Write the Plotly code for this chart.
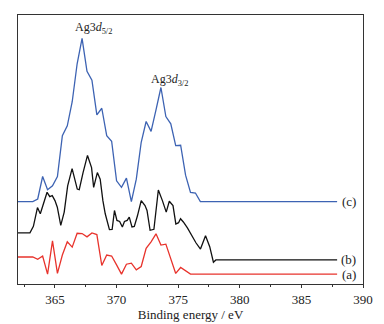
import plotly.graph_objects as go

# Binding energy (eV) and intensity (arbitrary units, curves offset)
x_c = [362.0, 363.2, 363.6, 364.0, 364.4, 364.8, 365.2, 365.6, 366.0, 366.4, 366.8, 367.2,
       367.6, 368.0, 368.4, 368.8, 369.2, 369.6, 370.0, 370.4, 370.8, 371.2, 371.6, 372.0,
       372.4, 372.8, 373.2, 373.6, 374.0, 374.4, 374.8, 375.2, 375.6, 376.0, 376.4, 376.8, 387.9]
y_c = [83.3, 83.3, 86, 108.7, 95.3, 99.3, 108.7, 150, 160, 184.3, 222.7, 248.3,
       215, 206, 171, 177.7, 150, 144.3, 104.3, 97.7, 107, 83.3, 106, 143.3,
       164.3, 154.3, 176, 198.7, 169.3, 162, 140, 140.3, 110, 92.7, 92, 83.3, 83.3]

x_b = [362.0, 362.97, 363.25, 363.58, 363.81, 364.0, 364.36, 364.58, 364.78, 365.0, 365.19,
       365.47, 365.75, 366.03, 366.39, 366.81, 366.97, 367.28, 367.64, 367.97, 368.14, 368.44,
       368.67, 368.89, 369.08, 369.42, 369.64, 369.83, 370.03, 370.25, 370.47, 370.64, 370.86,
       371.03, 371.25, 371.44, 371.69, 372.0, 372.31, 372.47, 372.72, 373.03, 373.39, 373.72,
       374.03, 374.28, 374.58, 374.81, 375.03, 375.19, 375.42, 375.75, 376.03, 376.44, 376.81,
       377.22, 377.56, 377.86, 378.06, 387.9]
y_b = [51.7, 51.7, 58.3, 77.3, 71, 79.3, 92.7, 88.3, 89.3, 84.3, 77.7,
       59.3, 72.7, 99.3, 116.7, 96, 95.3, 112.7, 130, 117.7, 97.7, 112.7,
       106, 84.3, 71, 55, 55.3, 74.3, 64.3, 63.3, 57.7, 63.3, 64.3,
       67.7, 57.7, 58.3, 68.7, 84.3, 79.3, 74.3, 54.3, 55.3, 95, 84.3,
       72.7, 83.7, 79.3, 60.7, 62, 66, 62.7, 56.7, 50.3, 41.7, 35.3,
       48.7, 37.7, 22, 24.3, 24.3]

x_a = [362.0, 363.2, 363.6, 364.0, 364.4, 364.8, 365.2, 365.6, 366.0, 366.4, 366.8, 367.2,
       367.6, 368.0, 368.4, 368.8, 369.2, 369.6, 370.0, 370.4, 370.8, 371.2, 371.6, 372.0,
       372.4, 372.8, 373.2, 373.6, 374.0, 374.4, 374.8, 375.2, 375.6, 376.0, 387.9]
y_a = [27.3, 27.3, 25, 28.3, 10, 43.7, 10.7, 29.3, 42.7, 37.3, 51.3, 51,
       47.7, 51.7, 50, 18.7, 29.3, 28.3, 19.3, 10, 20, 21, 14.3, 17.7,
       36, 42.7, 50.7, 39.3, 40.3, 26, 10.7, 16.7, 13.3, 10, 10]

series = [("(a)", x_a, y_a, "#e8332c"), ("(b)", x_b, y_b, "#111111"), ("(c)", x_c, y_c, "#3d63b3")]
peak_labels = [("Ag3<i>d</i><sub>5/2</sub>", 368.1, 259), ("Ag3<i>d</i><sub>3/2</sub>", 374.3, 206)]

serif = "Liberation Serif, Times New Roman, serif"
fig = go.Figure()
annotations = []
for name, xs, ys, col in series:
    fig.add_trace(go.Scatter(x=xs, y=ys, mode="lines", line=dict(color=col, width=1.3),
                             showlegend=False, hoverinfo="skip"))
    annotations.append(dict(x=388.85, y=ys[-1], text=name, showarrow=False, xanchor="center",
                            yanchor="middle", font=dict(family=serif, size=13, color="#222")))
for txt, px, py in peak_labels:
    annotations.append(dict(x=px, y=py, text=txt, showarrow=False, xanchor="center",
                            yanchor="middle", font=dict(family=serif, size=12, color="#222")))

# page body has an 8px default margin, so the figure is sized to fit the window
fig.update_layout(
    width=376, height=316,
    margin=dict(l=10, r=21, t=6, b=30),
    paper_bgcolor="white", plot_bgcolor="white",
    annotations=annotations,
    xaxis=dict(range=[362, 390], tickvals=[365, 370, 375, 380, 385, 390],
               showgrid=False, zeroline=False, showline=True, linecolor="#333", linewidth=1,
               mirror=True, ticks="outside", ticklen=3, tickcolor="#333",
               minor=dict(tickvals=[362.5, 367.5, 372.5, 377.5, 382.5, 387.5], ticks="outside",
                          ticklen=2, tickcolor="#333"),
               tickfont=dict(family=serif, size=13, color="#222"),
               title=dict(text="Binding energy / eV", font=dict(family=serif, size=13, color="#222"),
                          standoff=2)),
    yaxis=dict(range=[0, 272], showgrid=False, zeroline=False, showline=True, linecolor="#333",
               linewidth=1, mirror=True, showticklabels=False, ticks=""),
)
fig.write_html("out.html")
